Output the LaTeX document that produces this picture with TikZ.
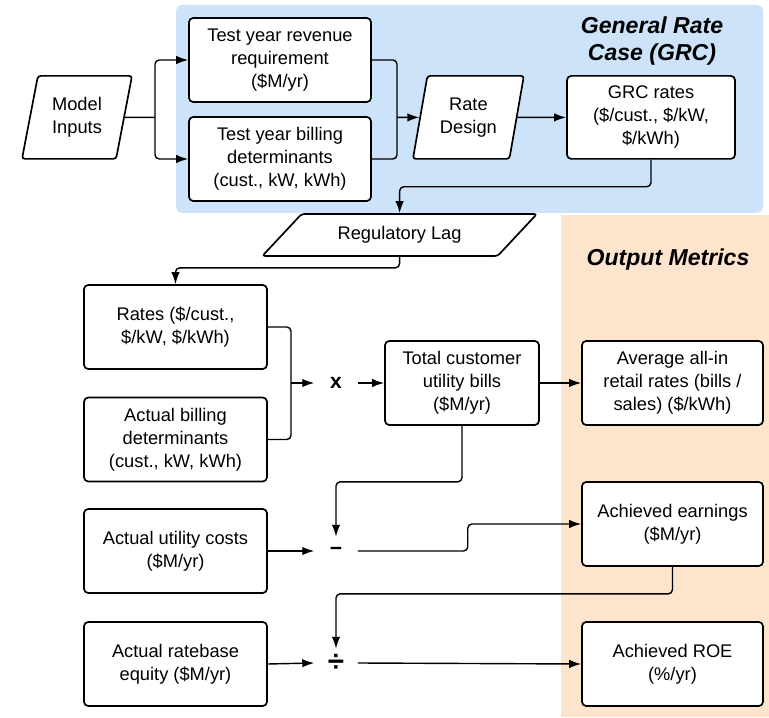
\documentclass[tikz,border=0pt]{standalone}
\usepackage{fontspec}
\setmainfont{Liberation Sans}
\usepackage{xcolor}
\usetikzlibrary{arrows.meta}
\usetikzlibrary{shapes.geometric}

\definecolor{grcblue}{RGB}{205,227,250}
\definecolor{metricorange}{RGB}{253,228,204}

\begin{document}
\begin{tikzpicture}[
  box/.style={draw, line width=1.2pt, rounded corners=3pt, fill=white, align=center,
              minimum height=2.1cm, font=\fontsize{13}{16.4}\selectfont},
  slanted/.style={trapezium, trapezium stretches=true, draw, line width=1.2pt, rounded corners=2pt,
              fill=white, align=center, inner sep=1pt, font=\fontsize{13}{16.4}\selectfont},
  op/.style={minimum width=1.075cm, minimum height=0.7cm, inner sep=0pt,
             font=\fontsize{15}{16}\selectfont\bfseries},
  link/.style={line width=1pt, rounded corners=3pt},
  arr/.style={link, -{Latex[length=8.5pt,width=6pt]}},
  heading/.style={align=center, font=\fontsize{16.4}{19.2}\selectfont\bfseries\itshape}
]
  \useasboundingbox (0,0) rectangle (19.225,17.925);

  % Shaded regions
  \fill[grcblue, rounded corners=4pt] (4.4,12.6) rectangle (19.075,17.8);
  \fill[metricorange] (14.025,0) rectangle (19.225,12.55);
  \node[heading] (grcTitle) at (16.3,16.9) {General Rate\\Case (GRC)};
  \node[heading] (outTitle) at (16.7,11.425) {Output Metrics};

  % General rate case
  \node[slanted, trapezium left angle=76, trapezium right angle=104,
        minimum width=2.75cm, minimum height=2.075cm] (ModelIn) at (1.925,14.99) {Model\\Inputs};
  \node[box, minimum width=4.55cm] (RevReq) at (7.0,16.425) {Test year revenue\\requirement\\(\$M/yr)};
  \node[box, minimum width=4.55cm] (BillDet) at (7.0,13.95) {Test year billing\\determinants\\(cust., kW, kWh)};
  \node[slanted, trapezium left angle=76, trapezium right angle=104,
        minimum width=2.775cm, minimum height=2.075cm] (RateDesign) at (11.71,14.99) {Rate\\Design};
  \node[box, minimum width=4.2cm, minimum height=2.075cm] (GRCrates) at (16.275,14.99) {GRC rates\\(\$/cust., \$/kW,\\\$/kWh)};
  \node[slanted, trapezium left angle=38, trapezium right angle=142,
        minimum width=6.875cm, minimum height=1.05cm] (RegLag) at (9.99,12.05) {Regulatory Lag};

  % Actual bills, earnings and ROE
  \node[box, minimum width=4.575cm] (Rates) at (4.3875,9.75) {Rates (\$/cust.,\\\$/kW, \$/kWh)};
  \node[box, minimum width=4.575cm] (ActBill) at (4.3875,6.9375) {Actual billing\\determinants\\(cust., kW, kWh)};
  \node[box, minimum width=4.575cm] (ActCost) at (4.3875,4.15) {Actual utility costs\\(\$M/yr)};
  \node[box, minimum width=4.575cm] (Equity) at (4.3875,1.325) {Actual ratebase\\equity (\$M/yr)};

  \node[op] (Times) at (8.4,8.35) {x};
  \node[op] (Minus) at (8.4,4.15) {−};
  \node[op, font=\fontsize{21}{21}\selectfont\bfseries] (Divide) at (8.4,1.35) {÷};

  \node[box, minimum width=3.85cm] (Total) at (11.55,8.35) {Total customer\\utility bills\\(\$M/yr)};
  \node[box, minimum width=4.525cm] (AvgRate) at (16.8125,8.35) {Average all-in\\retail rates (bills /\\sales) (\$/kWh)};
  \node[box, minimum width=4.525cm] (Earn) at (16.8125,4.825) {Achieved earnings\\(\$M/yr)};
  \node[box, minimum width=4.525cm] (ROE) at (16.8125,1.325) {Achieved ROE\\(\%/yr)};

  % Connectors
  \coordinate (split) at (3.875,14.99);
  \draw[link] (ModelIn.east) -- (split);
  \draw[arr] (split) |- (RevReq.west);
  \draw[arr] (split) |- (BillDet.west);

  \coordinate (merge) at (9.925,14.99);
  \draw[link] (RevReq.east) -| (merge);
  \draw[link] (BillDet.east) -| (merge);
  \draw[arr] (merge) -- (RateDesign.west);
  \draw[arr] (RateDesign.east) -- (GRCrates.west);
  \draw[arr] (GRCrates.south) -- ++(0,-0.675) -| (RegLag.north);
  \draw[arr] (RegLag.south) -- ++(0,-0.275) -| (Rates.north);

  \coordinate (mult) at (7.275,8.35);
  \draw[link] (Rates.east) -| (mult);
  \draw[link] (ActBill.east) -| (mult);
  \draw[arr] (mult) -- (Times.west);
  \draw[arr] (Times.east) -- (Total.west);
  \draw[arr] (Total.east) -- (AvgRate.west);
  \draw[arr] (Total.south) -- ++(0,-1.4) -| (Minus.north);
  \draw[arr] (ActCost.east) -- (Minus.west);
  \draw[arr] (Minus.east) -- ++(2.75,0) |- (Earn.west);
  \draw[arr] (Earn.south) -- ++(0,-0.675) -| (Divide.north);
  \draw[arr] (Equity.east) -- (Divide.west);
  \draw[arr] (Divide.east) -- (ROE.west);
\end{tikzpicture}
\end{document}
